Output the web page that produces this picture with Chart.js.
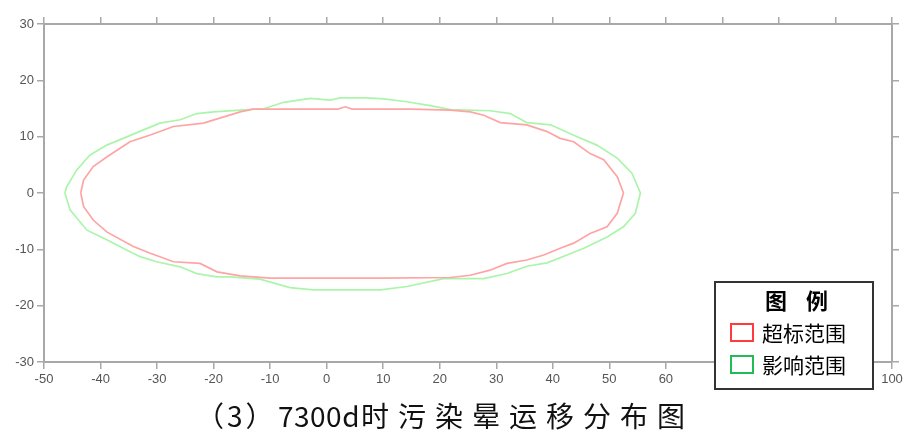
<!DOCTYPE html>
<html>
<head>
<meta charset="utf-8">
<script src="https://cdn.jsdelivr.net/npm/chart.js@4"></script>
<style>
  html, body { margin: 0; padding: 0; background: #fff; }
  #wrap { width: 903px; height: 432px; }
</style>
</head>
<body>
<div id="wrap"><canvas id="myChart" width="903" height="432"></canvas></div>
<script>
// 超标范围 contour (red)
var redX = [-43.5, -43.0, -41.3, -38.9, -34.8, -31.2, -27.1, -21.8, -15.3, -13, -5, 2, 3.3, 4.5, 15, 21.9, 25.4, 27.8, 30.7, 35.4, 39.0, 41.3, 43.7, 46.6, 49.0, 51.4, 52.5,
  51.4, 49.6, 46.6, 43.7, 41.3, 38.4, 35.4, 31.9, 28.9, 25.4, 21.9, 10, 0, -10, -15.3, -19.4, -22.4, -27.1, -31.2, -34.2, -38.9, -41.3, -43.0, -43.5];
var redY = [0, 2.3, 4.7, 6.4, 9.1, 10.3, 11.8, 12.4, 14.4, 14.9, 14.9, 14.9, 15.3, 14.9, 14.9, 14.7, 14.4, 13.8, 12.5, 12.1, 10.9, 9.7, 9.1, 7.0, 5.9, 2.9, 0,
  -3.6, -6.0, -7.2, -8.9, -9.8, -11.0, -11.9, -12.5, -13.7, -14.6, -15.0, -15.1, -15.1, -15.1, -14.7, -14.0, -12.5, -12.2, -10.7, -9.5, -6.9, -4.8, -2.4, 0];

// 影响范围 contour (green)
var greenX = [-46.3, -46.0, -44.2, -41.9, -38.9, -36.0, -32.4, -29.5, -25.9, -23.0, -20.0, -15.3, -11, -7.6, -2.9, 0.6, 2.4, 7.1, 10.1, 14.2, 18.3, 21.9, 28.9, 32.5, 35.4, 39.6, 44.3, 47.8, 51.4, 54.0, 55.5,
  54.6, 52.5, 49.6, 45.5, 42.5, 39.0, 35.4, 31.9, 27.8, 20.7, 14.2, 9.5, -2.3, -6.5, -11.8, -17.1, -19.4, -23.0, -25.9, -30.1, -33.0, -35.4, -38.9, -42.4, -45.4, -46.3];
var greenY = [0, 1.1, 4.1, 6.7, 8.5, 9.7, 11.2, 12.4, 13.0, 14.1, 14.4, 14.7, 15.0, 16.1, 16.8, 16.5, 16.9, 16.9, 16.7, 16.2, 15.5, 14.8, 14.6, 14.1, 12.5, 12.1, 10.0, 8.5, 6.2, 3.5, 0,
  -3.6, -6.0, -7.8, -9.8, -11.0, -12.4, -13.0, -14.3, -15.2, -15.2, -16.6, -17.2, -17.2, -16.8, -15.3, -14.9, -14.9, -14.3, -13.1, -12.2, -11.3, -10.1, -8.3, -6.6, -3.0, 0];

var seriesNames = ["超标范围", "影响范围"];
var legendTitle = ["图", "例"];
var titleParts = ["（3）", "7300d", "时污染晕运移分布图"];

function toPoints(xs, ys) {
  return xs.map(function (x, i) { return { x: x, y: ys[i] }; });
}

var axisColor = "#a8a8a8";

function sideAxis(position, size, horizontal) {
  return {
    type: "linear",
    position: position,
    min: horizontal ? -50 : -30,
    max: horizontal ? 100 : 30,
    ticks: { display: false, stepSize: 10 },
    grid: { drawOnChartArea: false, drawTicks: true, tickLength: 7, color: axisColor, lineWidth: 1.5 },
    border: { display: true, color: axisColor, width: 2 },
    afterFit: function (scale) {
      if (horizontal) scale.height = size; else scale.width = size;
      scale.paddingLeft = scale.paddingRight = scale.paddingTop = scale.paddingBottom = 0;
    },
  };
}

var overlay = {
  id: "overlay",
  afterDraw: function (chart) {
    var c = chart.ctx;
    c.save();
    // title below the plot
    c.fillStyle = "#111";
    c.textAlign = "left";
    c.textBaseline = "middle";
    c.font = '28px "Noto Sans CJK SC"';
    c.letterSpacing = "3px";
    c.fillText(titleParts[0], 196, 416);
    c.letterSpacing = "0.5px";
    c.fillText(titleParts[1], 278, 416);
    c.letterSpacing = "9px";
    c.fillText(titleParts[2], 361, 416);
    c.letterSpacing = "0px";
    // legend box
    c.fillStyle = "#fff";
    c.fillRect(715, 282, 158, 107);
    c.strokeStyle = "#333";
    c.lineWidth = 2;
    c.strokeRect(715, 282, 158, 107);
    c.fillStyle = "#000";
    c.textAlign = "center";
    c.font = 'bold 22px "Noto Sans CJK SC"';
    c.fillText(legendTitle[0], 776, 301);
    c.fillText(legendTitle[1], 817, 301);
    c.textAlign = "left";
    c.font = '21px "Noto Sans CJK SC"';
    var cols = ["#ff3b3b", "#22bb55"];
    var ys = [332, 364];
    for (var i = 0; i < 2; i++) {
      c.strokeStyle = cols[i];
      c.lineWidth = 2;
      c.strokeRect(731, ys[i] - 8, 22, 17);
      c.fillStyle = "#000";
      c.fillText(seriesNames[i], 762, ys[i] + 1);
    }
    c.restore();
  },
};

var ctx = document.getElementById("myChart");
var myChart = new Chart(ctx, {
  type: "scatter",
  data: {
    datasets: [
      {
        label: seriesNames[0],
        data: toPoints(redX, redY),
        showLine: true,
        borderColor: "#ffa4a4",
        borderWidth: 1.7,
        pointRadius: 0,
        tension: 0,
      },
      {
        label: seriesNames[1],
        data: toPoints(greenX, greenY),
        showLine: true,
        borderColor: "#abf5ab",
        borderWidth: 1.7,
        pointRadius: 0,
        tension: 0,
      },
    ],
  },
  options: {
    responsive: false,
    animation: false,
    layout: { padding: 0 },
    plugins: { legend: { display: false }, tooltip: { enabled: false } },
    scales: {
      x: {
        type: "linear",
        position: "bottom",
        min: -50,
        max: 100,
        ticks: { stepSize: 10, padding: 3, color: "#555", font: { family: "Liberation Sans, Arial", size: 13 } },
        grid: { drawOnChartArea: false, drawTicks: true, tickLength: 7, color: axisColor, lineWidth: 1.5 },
        border: { display: true, color: axisColor, width: 2 },
        afterFit: function (scale) {
          scale.height = 70;
          scale.paddingLeft = 0;
          scale.paddingRight = 0;
        },
      },
      y: {
        type: "linear",
        position: "left",
        min: -30,
        max: 30,
        ticks: { stepSize: 10, padding: 3, color: "#555", font: { family: "Liberation Sans, Arial", size: 13 } },
        grid: { drawOnChartArea: false, drawTicks: true, tickLength: 7, color: axisColor, lineWidth: 1.5 },
        border: { display: true, color: axisColor, width: 2 },
        afterFit: function (scale) {
          scale.width = 44;
          scale.paddingTop = 0;
          scale.paddingBottom = 0;
        },
      },
      x2: sideAxis("top", 24, true),
      y2: sideAxis("right", 11, false),
    },
  },
  plugins: [overlay],
});
</script>
</body>
</html>
